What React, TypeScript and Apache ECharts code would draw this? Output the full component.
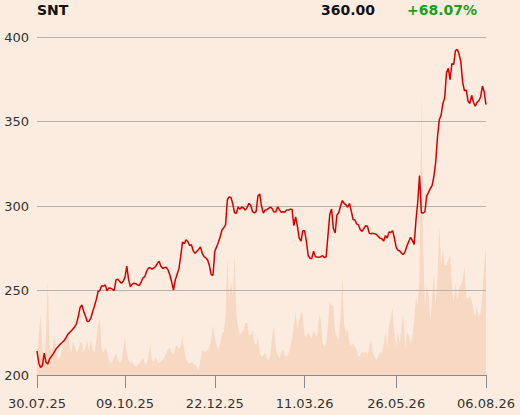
import React, { useEffect, useRef } from "react";
import * as echarts from "echarts";

const ticker = "SNT";
const tickDates = ["30.07.25", "09.10.25", "22.12.25", "11.03.26", "26.05.26", "06.08.26"];
const tickIndices = [0, 49, 99, 149, 200, 250];

const closes = [
  214.2, 207, 204.5, 205.5, 213, 207.5, 206.5, 209.5, 211, 212.5,
  214.3, 216, 217, 218.3, 219.2, 220.3, 221.8, 223.8, 225, 226,
  227.2, 228.4, 230.4, 234.6, 240, 241.5, 237.5, 234.8, 231.7, 231.8,
  233.7, 237.5, 240.8, 244.6, 249.4, 250, 252.8, 252.5, 253.3, 249.8,
  251.5, 251.4, 250.7, 250, 256.3, 256.6, 255.4, 254.3, 255.5, 257.8,
  264.5, 256.4, 252.2, 253.8, 254.3, 254, 253.3, 253, 255, 257.5,
  258.2, 261.3, 263.3, 263.4, 262.7, 263.3, 264.2, 265.9, 267.3, 264.3,
  263, 263.6, 263.7, 262.1, 259, 255, 250.3, 256.2, 259.6, 262.8,
  270, 278.6, 277.7, 280, 279, 276.5, 277.1, 273.3, 272, 273.2,
  274.3, 275.8, 272, 270, 269.3, 268, 264.7, 259.3, 259, 273.2,
  275.8, 278.6, 281.8, 285.8, 287.2, 288.8, 303.7, 305.4, 305, 301.3,
  296, 295.7, 299.4, 298, 299.4, 298.8, 297.5, 299.2, 301.6, 300.3,
  296.7, 295.9, 296.7, 305.8, 307.2, 300, 295.8, 297.6, 297.8, 298.6,
  299.4, 298.3, 296.4, 296.6, 299.5, 297.7, 296.3, 296.6, 296.3, 297.6,
  297.6, 298.1, 298.1, 288.4, 293.5, 288, 281, 279.2, 285.3, 285.3,
  279, 270.7, 269, 269, 273.3, 269.9, 269.8, 269.6, 270, 270.6,
  269.5, 270, 282.5, 295, 298.2, 286.8, 284, 294.6, 296, 300,
  303.2, 301.5, 300.7, 299.3, 301.5, 297, 292, 291.7, 289.4, 288.8,
  286, 285, 286.7, 288.3, 288, 283.8, 283.6, 283.9, 283.6, 283.2,
  282, 281, 280.6, 279.2, 282.5, 281, 284.7, 284.3, 285.4, 281,
  275.5, 273.8, 273.4, 272, 271.3, 273.2, 276.4, 279, 281.5, 279.5,
  277.3, 291.5, 302.5, 318, 296, 295.8, 296.6, 306, 308.1, 310.3,
  312.2, 317.6, 326, 341, 351, 353.7, 360.7, 364, 378.8, 381.5,
  374.7, 384.2, 383.8, 391.9, 392.7, 389.8, 385.4, 373.2, 368.2, 368.5,
  362, 360.7, 365.5, 361.4, 359, 361.3, 362.3, 364.5, 371, 367.6,
  360
];

// traded volume (thousand shares)
const volumes = [
  20, 40, 60, 25, 12, 40, 94, 30, 22, 30,
  38, 20, 15, 18, 28, 30, 38, 44, 30, 22,
  33, 30, 22, 25, 32, 33, 22, 28, 35, 22,
  36, 25, 22, 35, 50, 57, 25, 22, 27, 24,
  15, 12, 13, 18, 22, 15, 12, 13, 25, 38,
  22, 15, 12, 13, 10, 8, 10, 12, 14, 17,
  12, 10, 18, 30, 15, 13, 18, 14, 12, 13,
  15, 18, 22, 26, 28, 22, 20, 28, 30, 25,
  30, 37, 25, 16, 12, 12, 13, 12, 10, 8,
  5, 15, 25, 24, 23, 25, 28, 35, 50, 38,
  30, 25, 32, 42, 43, 60, 118, 75, 95, 78,
  123, 60, 48, 40, 42, 45, 52, 52, 40, 40,
  45, 32, 30, 38, 22, 18, 20, 22, 17, 15,
  20, 40, 48, 25, 20, 17, 22, 25, 20, 18,
  22, 28, 35, 50, 63, 45, 55, 64, 60, 40,
  38, 43, 40, 37, 45, 40, 38, 60, 55, 32,
  28, 32, 50, 73, 70, 68, 43, 38, 35, 60,
  98, 50, 42, 45, 32, 30, 32, 28, 25, 18,
  20, 23, 22, 23, 20, 28, 36, 22, 18, 15,
  18, 23, 22, 30, 43, 28, 50, 58, 67, 40,
  28, 42, 32, 50, 60, 27, 42, 40, 33, 38,
  55, 77, 72, 98, 282, 130, 68, 90, 80, 55,
  78, 100, 70, 100, 148, 110, 125, 110, 110, 115,
  120, 90, 72, 92, 75, 86, 90, 95, 108, 78,
  76, 80, 75, 65, 58, 70, 58, 62, 80, 110,
  128
];

const yTicks = { min: 200, max: 400, step: 50 };
const volumeAxisMax = 338;

const BG = "#fcece0";
const FONT = "'DejaVu Sans', Verdana, sans-serif";

export default function App() {
  const ref = useRef<HTMLDivElement>(null);

  useEffect(() => {
    document.body.style.margin = "0";
    document.body.style.background = BG;
    const chart = echarts.init(ref.current!, null, { renderer: "svg" });
    const categories = closes.map((_, i) => String(i));
    const first = closes[0];
    const last = closes[closes.length - 1];
    const change = (last / first - 1) * 100;
    const changeText = (change >= 0 ? "+" : "") + change.toFixed(2) + "%";

    chart.setOption({
      animation: false,
      backgroundColor: BG,
      grid: { left: 37, right: 34, top: 37, bottom: 40, containLabel: false },
      graphic: [
        {
          type: "text",
          left: 37,
          top: 3,
          style: { text: ticker, font: `bold 14px ${FONT}`, fill: "#111" },
        },
        {
          type: "text",
          right: 145,
          top: 3,
          style: { text: last.toFixed(2), font: `bold 14px ${FONT}`, fill: "#111" },
        },
        {
          type: "text",
          left: 407,
          top: 3,
          style: { text: changeText, font: `bold 14px ${FONT}`, fill: change >= 0 ? "#1c9e1c" : "#d40000" },
        },
      ],
      xAxis: {
        type: "category",
        data: categories,
        boundaryGap: false,
        z: 2,
        axisLine: { show: true, lineStyle: { color: "#8a8a8a", width: 1 } },
        axisTick: {
          show: true,
          length: 13,
          interval: (index: number) => tickIndices.includes(index),
          lineStyle: { color: "#8a8a8a", width: 1 },
        },
        axisLabel: {
          interval: (index: number) => tickIndices.includes(index),
          formatter: (_v: string, index: number) => {
            const k = tickIndices.indexOf(index);
            return k >= 0 ? tickDates[k] : "";
          },
          margin: 22,
          color: "#333",
          fontSize: 13,
          fontFamily: FONT,
          showMinLabel: true,
          showMaxLabel: true,
        },
        splitLine: { show: false },
      },
      yAxis: [
        {
          type: "value",
          min: yTicks.min,
          max: yTicks.max,
          interval: yTicks.step,
          z: 2,
          axisLine: { show: false },
          axisTick: { show: false },
          axisLabel: { color: "#333", fontSize: 13, fontFamily: FONT, margin: 8 },
          splitLine: { show: true, lineStyle: { color: "#b5b1ad", width: 1 } },
        },
        {
          type: "value",
          min: 0,
          max: volumeAxisMax,
          show: false,
          splitLine: { show: false },
        },
      ],
      series: [
        {
          type: "line",
          name: "volume",
          yAxisIndex: 1,
          data: volumes,
          symbol: "none",
          z: 1,
          lineStyle: { width: 0, color: "#f6d6bf" },
          areaStyle: { color: "#f7d8c2", opacity: 1 },
          silent: true,
        },
        {
          type: "line",
          name: ticker,
          yAxisIndex: 0,
          data: closes,
          symbol: "none",
          z: 3,
          lineStyle: { width: 1.5, color: "#d40000" },
        },
      ],
    });
    return () => chart.dispose();
  }, []);

  return (
    <div
      ref={ref}
      style={{ position: "fixed", left: 0, top: 0, width: 520, height: 415, background: BG }}
    />
  );
}
